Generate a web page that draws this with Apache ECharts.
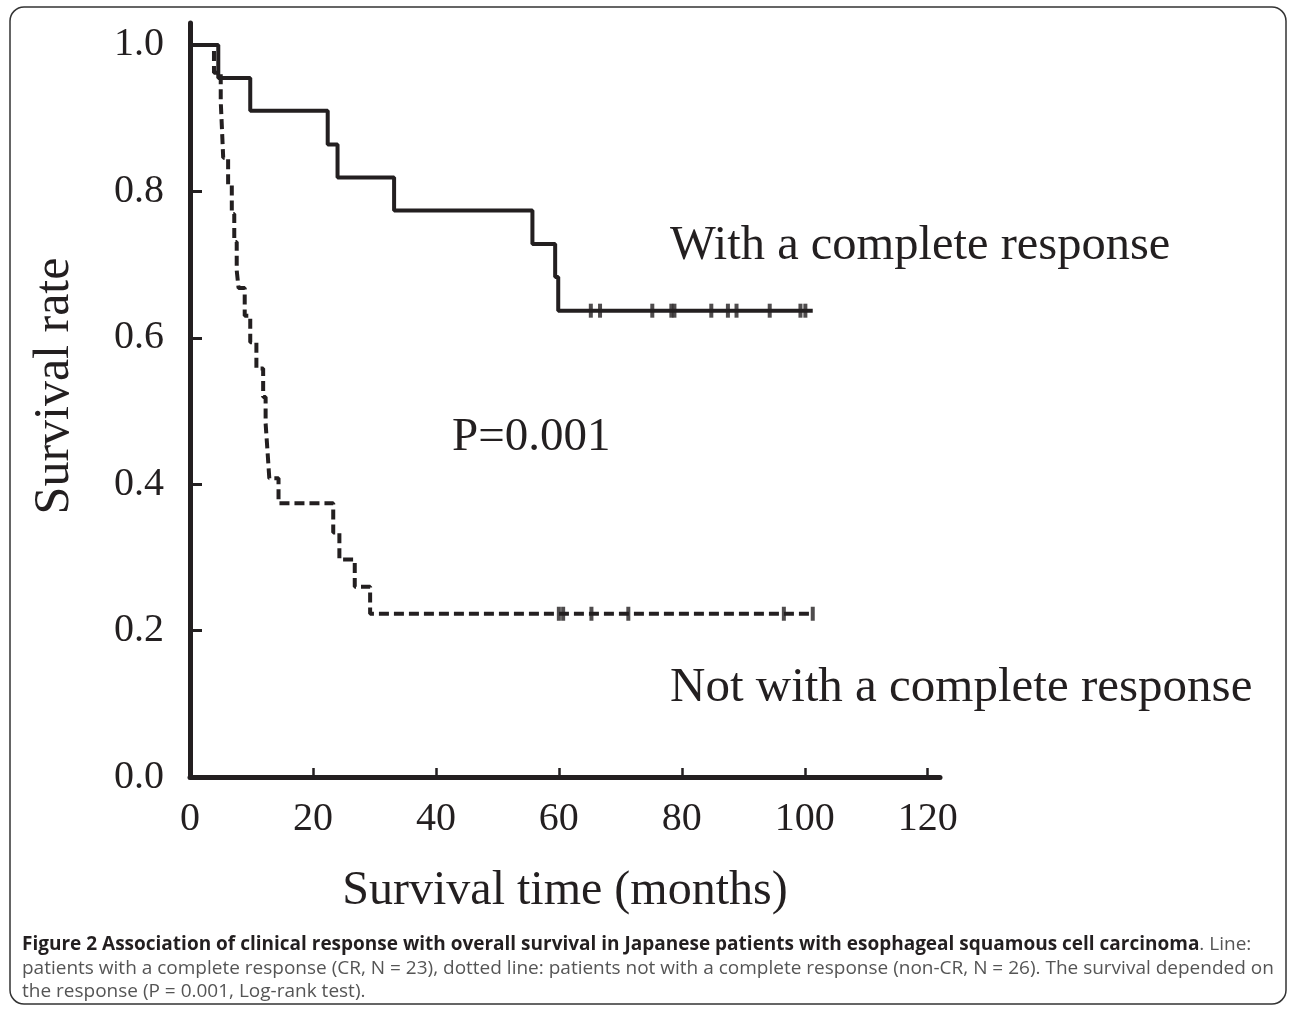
<!DOCTYPE html>
<html>
<head>
<meta charset="utf-8">
<script src="https://cdn.jsdelivr.net/npm/echarts@6/dist/echarts.min.js"></script>
<style>
  html, body { margin: 0; padding: 0; background: #fff; }
  #chart { width: 1290px; height: 1009px; }
</style>
</head>
<body>
<div id="chart"></div>
<script>
// survival steps: time (months) where the curve drops, and the new level
const crTimes = [0, 4.6, 9.8, 22.4, 24.0, 33.2, 55.7, 59.4, 59.9, 101.3];
const crRates = [1.0, 0.955, 0.910, 0.864, 0.819, 0.774, 0.728, 0.683, 0.637, 0.637];
const crCensor = [65.2, 66.7, 75.2, 78.3, 78.8, 84.8, 87.5, 88.9, 94.3, 99.3, 100.1];

const nonTimes = [0, 3.9, 5.0, 5.2, 5.4, 6.2, 6.8, 7.2, 7.6, 7.9, 8.9, 9.8, 10.8, 11.9, 12.3, 12.6, 12.9, 14.4, 23.3, 24.3, 26.8, 29.3, 101.5];
const nonRates = [1.0, 0.962, 0.923, 0.885, 0.846, 0.808, 0.769, 0.731, 0.692, 0.668, 0.630, 0.594, 0.558, 0.519, 0.483, 0.446, 0.408, 0.374, 0.334, 0.297, 0.260, 0.223, 0.223];
const nonCensor = [60.0, 60.7, 65.3, 71.3, 96.6, 101.3];

const xTicks = [0, 20, 40, 60, 80, 100, 120];
const yTicks = [0, 0.2, 0.4, 0.6, 0.8, 1.0];

const ink = '#231f20';
const serif = '"Liberation Serif", "DejaVu Serif", serif';
const sans = '"Open Sans", sans-serif';

function pairs(xs, ys) {
  return xs.map((x, i) => [x, ys[i]]);
}
function marks(ts, level) {
  return ts.map(t => [t, level]);
}

const chart = echarts.init(document.getElementById('chart'));

const option = {
  backgroundColor: '#fff',
  animation: false,
  grid: { left: 190, right: 350, top: 23, bottom: 232 },
  xAxis: {
    type: 'value',
    min: 0,
    max: 122,
    name: 'Survival time (months)',
    nameLocation: 'middle',
    nameGap: 90,
    nameTextStyle: { fontFamily: serif, fontSize: 48, color: ink },
    axisLine: { show: true, onZero: false, lineStyle: { color: ink, width: 5 } },
    axisTick: { show: true, inside: true, length: 9, lineStyle: { color: ink, width: 2.5 }, customValues: xTicks },
    axisLabel: { fontFamily: serif, fontSize: 40, color: ink, margin: 22, customValues: xTicks },
    splitLine: { show: false }
  },
  yAxis: {
    type: 'value',
    min: 0,
    max: 1.03,
    axisLine: { show: true, onZero: false, lineStyle: { color: ink, width: 5 } },
    axisTick: { show: true, inside: true, length: 12, lineStyle: { color: ink, width: 3 }, customValues: yTicks },
    axisLabel: {
      fontFamily: serif, fontSize: 40, color: ink, margin: 26,
      customValues: yTicks,
      formatter: v => v.toFixed(1)
    },
    splitLine: { show: false }
  },
  series: [
    {
      type: 'line',
      step: 'end',
      data: pairs(crTimes, crRates),
      showSymbol: false,
      lineStyle: { color: ink, width: 4 },
      z: 3
    },
    {
      type: 'line',
      step: 'end',
      data: pairs(nonTimes, nonRates),
      showSymbol: false,
      lineStyle: { color: ink, width: 4, type: [10, 5] },
      z: 3
    },
    {
      type: 'scatter',
      data: marks(crCensor, crRates[crRates.length - 1]),
      symbol: 'rect',
      symbolSize: [4, 14],
      itemStyle: { color: ink },
      z: 4
    },
    {
      type: 'scatter',
      data: marks(nonCensor, nonRates[nonRates.length - 1]),
      symbol: 'rect',
      symbolSize: [4, 14],
      itemStyle: { color: ink },
      z: 4
    }
  ],
  graphic: [
    {
      type: 'rect',
      shape: { x: 10, y: 7, width: 1276, height: 997, r: 14 },
      style: { fill: 'none', stroke: '#333', lineWidth: 1.5 },
      silent: true
    },
    {
      type: 'text',
      x: 55, y: 386,
      rotation: Math.PI / 2,
      style: { text: 'Survival rate', font: '50px ' + serif, fill: ink, textAlign: 'center', textVerticalAlign: 'middle' }
    },
    {
      type: 'text',
      x: 670, y: 246,
      style: { text: 'With a complete response', font: '48.5px ' + serif, fill: ink, textVerticalAlign: 'middle' }
    },
    {
      type: 'text',
      x: 670, y: 688,
      style: { text: 'Not with a complete response', font: '49px ' + serif, fill: ink, textVerticalAlign: 'middle' }
    },
    {
      type: 'text',
      x: 452, y: 438,
      style: { text: 'P=0.001', font: '47px ' + serif, fill: ink, textVerticalAlign: 'middle' }
    },
    {
      type: 'text',
      x: 22, y: 945,
      style: {
        text: '{b|Figure 2 Association of clinical response with overall survival in Japanese patients with esophageal squamous cell carcinoma}{r|. Line:}',
        textVerticalAlign: 'middle',
        rich: {
          b: { fontFamily: sans, fontWeight: 'bold', fontSize: 19, fill: ink },
          r: { fontFamily: sans, fontSize: 19, fill: '#555' }
        }
      }
    },
    {
      type: 'text',
      x: 22, y: 969,
      style: {
        text: 'patients with a complete response (CR, N = 23), dotted line: patients not with a complete response (non-CR, N = 26). The survival depended on',
        font: '19px ' + sans, fill: '#555', textVerticalAlign: 'middle'
      }
    },
    {
      type: 'text',
      x: 22, y: 992,
      style: {
        text: 'the response (P = 0.001, Log-rank test).',
        font: '19px ' + sans, fill: '#555', textVerticalAlign: 'middle'
      }
    }
  ]
};

chart.setOption(option);
</script>
</body>
</html>
